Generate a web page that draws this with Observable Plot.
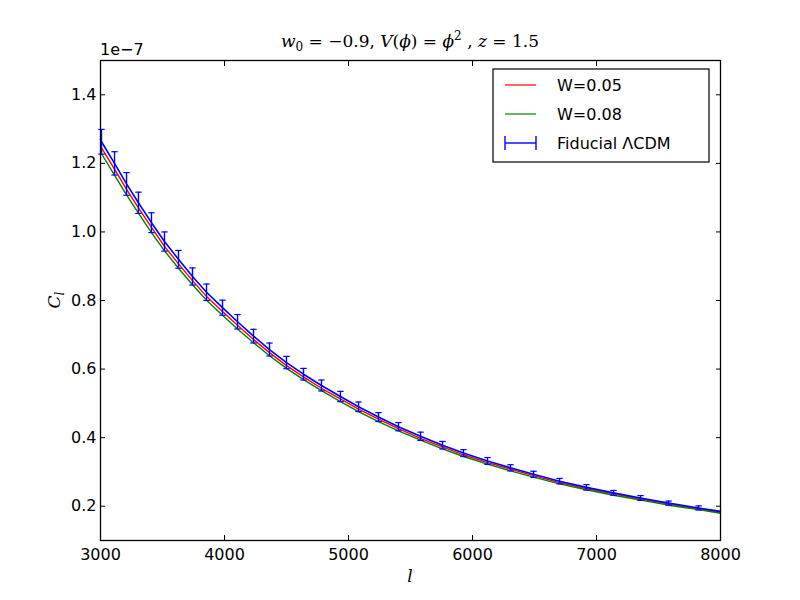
<!DOCTYPE html>
<html>
<head>
<meta charset="utf-8">
<script src="https://cdn.jsdelivr.net/npm/d3@7"></script>
<script src="https://cdn.jsdelivr.net/npm/@observablehq/plot@0.6"></script>
<style>
  html, body { margin: 0; padding: 0; background: white; }
  #chart { width: 800px; height: 600px; }
</style>
</head>
<body>
<div id="chart"></div>
<script>
// Multipole positions of the error-bar samples
const ell = [3008, 3113, 3210, 3306, 3411, 3516, 3629, 3742, 3855, 3984, 4105, 4234, 4363, 4500, 4637, 4782,
             4935, 5081, 5242, 5403, 5581, 5758, 5927, 6121, 6306, 6492, 6702, 6919, 7137, 7355, 7581, 7823];
// C_l values in units of 1e-7
const fiducial = [1.263, 1.200, 1.140, 1.085, 1.027, 0.972, 0.920, 0.870, 0.824, 0.779, 0.738, 0.696, 0.657, 0.619, 0.585, 0.552,
                  0.520, 0.490, 0.460, 0.432, 0.404, 0.378, 0.355, 0.332, 0.312, 0.293, 0.273, 0.255, 0.239, 0.224, 0.209, 0.195];
const fiducialErr = [0.036, 0.034, 0.033, 0.031, 0.029, 0.028, 0.026, 0.025, 0.024, 0.022, 0.021, 0.020, 0.019, 0.018, 0.017, 0.016,
                     0.015, 0.014, 0.013, 0.012, 0.012, 0.011, 0.010, 0.010, 0.009, 0.009, 0.008, 0.008, 0.007, 0.007, 0.006, 0.006];
const w005 = [1.245, 1.183, 1.124, 1.070, 1.013, 0.958, 0.907, 0.858, 0.812, 0.768, 0.728, 0.686, 0.648, 0.610, 0.577, 0.544,
              0.513, 0.483, 0.454, 0.426, 0.398, 0.373, 0.350, 0.327, 0.308, 0.289, 0.269, 0.251, 0.236, 0.221, 0.206, 0.192];
const w008 = [1.228, 1.166, 1.108, 1.055, 0.998, 0.945, 0.894, 0.846, 0.801, 0.757, 0.717, 0.677, 0.639, 0.602, 0.569, 0.537,
              0.505, 0.476, 0.447, 0.420, 0.393, 0.367, 0.345, 0.323, 0.303, 0.285, 0.265, 0.248, 0.232, 0.218, 0.203, 0.190];
// Curve end points at l = 3000 and l = 8000
const ellEnds = [3000, 8000];
const fiducialEnds = [1.270, 0.185];
const w005Ends = [1.252, 0.1825];
const w008Ends = [1.234, 0.1795];

const xTicks = [3000, 4000, 5000, 6000, 7000, 8000];
const yTicks = [0.2, 0.4, 0.6, 0.8, 1.0, 1.2, 1.4];
const seriesNames = ["W=0.05", "W=0.08", "Fiducial ΛCDM"];
const seriesColors = ["#ff0000", "#008000", "#0000ff"];

function curve(vals, ends) {
  const rows = ell.map((l, i) => ({l, v: vals[i]}));
  rows.unshift({l: ellEnds[0], v: ends[0]});
  rows.push({l: ellEnds[1], v: ends[1]});
  return rows;
}
const redRows = curve(w005, w005Ends);
const greenRows = curve(w008, w008Ends);
const blueRows = curve(fiducial, fiducialEnds);
const barRows = ell.map((l, i) => ({l, v: fiducial[i], lo: fiducial[i] - fiducialErr[i], hi: fiducial[i] + fiducialErr[i]}));

const capSymbol = {
  draw(ctx, size) {
    const w = Math.sqrt(size / Math.PI);
    ctx.moveTo(-w, 0);
    ctx.lineTo(w, 0);
  }
};

const chart = Plot.plot({
  width: 800,
  height: 600,
  marginLeft: 100,
  marginRight: 80,
  marginTop: 60,
  marginBottom: 60,
  style: {fontFamily: "DejaVu Sans, sans-serif", fontSize: "16px", background: "white", color: "black"},
  x: {domain: [3000, 8000]},
  y: {domain: [0.1, 1.5]},
  marks: [
    Plot.line(redRows, {x: "l", y: "v", stroke: seriesColors[0], strokeWidth: 1.4}),
    Plot.line(greenRows, {x: "l", y: "v", stroke: seriesColors[1], strokeWidth: 1.4}),
    Plot.line(blueRows, {x: "l", y: "v", stroke: seriesColors[2], strokeWidth: 1.6}),
    Plot.ruleX(barRows, {x: "l", y1: "lo", y2: "hi", stroke: seriesColors[2], strokeWidth: 1.4}),
    Plot.dot(barRows, {x: "l", y: "hi", symbol: capSymbol, r: 3.2, fill: "none", stroke: seriesColors[2], strokeWidth: 1.2}),
    Plot.dot(barRows, {x: "l", y: "lo", symbol: capSymbol, r: 3.2, fill: "none", stroke: seriesColors[2], strokeWidth: 1.2}),
    Plot.axisX({anchor: "bottom", ticks: xTicks, tickFormat: "d", tickSize: -5, tickPadding: 13, label: null, fontSize: 16}),
    Plot.axisX({anchor: "top", ticks: xTicks, tickFormat: () => "", tickSize: -5, label: null}),
    Plot.axisY({anchor: "left", ticks: yTicks, tickFormat: ".1f", tickSize: -5, tickPadding: 9, label: null, fontSize: 16}),
    Plot.axisY({anchor: "right", ticks: yTicks, tickFormat: () => "", tickSize: -5, label: null}),
    Plot.frame({stroke: "black", strokeWidth: 1.3})
  ]
});
document.getElementById("chart").appendChild(chart);

const svg = d3.select(chart);

// Title
const title = svg.append("text")
  .attr("x", 410).attr("y", 47)
  .attr("text-anchor", "middle")
  .style("font-family", "DejaVu Serif, serif")
  .style("font-size", "17px");
title.append("tspan").style("font-style", "italic").text("w");
title.append("tspan").attr("dy", 4).style("font-size", "12px").text("0");
title.append("tspan").attr("dy", -4).text(" = −0.9, ");
title.append("tspan").style("font-style", "italic").text("V");
title.append("tspan").text("(");
title.append("tspan").style("font-style", "italic").text("ϕ");
title.append("tspan").text(") = ");
title.append("tspan").style("font-style", "italic").text("ϕ");
title.append("tspan").attr("dy", -7).style("font-size", "12px").text("2");
title.append("tspan").attr("dy", 7).text(" , ");
title.append("tspan").style("font-style", "italic").text("z");
title.append("tspan").text(" = 1.5");

// Offset text
svg.append("text").attr("x", 100).attr("y", 55).attr("text-anchor", "start")
  .style("font-family", "DejaVu Sans, sans-serif").style("font-size", "16px")
  .text("1e−7");

// Axis labels
svg.append("text").attr("x", 410).attr("y", 582).attr("text-anchor", "middle")
  .style("font-family", "DejaVu Serif, serif").style("font-style", "italic").style("font-size", "17px")
  .text("l");
const ylab = svg.append("text").attr("transform", "translate(60,300) rotate(-90)").attr("text-anchor", "middle")
  .style("font-family", "DejaVu Serif, serif").style("font-size", "17px");
ylab.append("tspan").style("font-style", "italic").text("C");
ylab.append("tspan").attr("dy", 4).style("font-style", "italic").style("font-size", "12px").text("l");

// Legend
const lg = svg.append("g");
lg.append("rect").attr("x", 493).attr("y", 69).attr("width", 216).attr("height", 93)
  .attr("fill", "white").attr("stroke", "black").attr("stroke-width", 1.2);
const rowsY = [85, 114, 143];
[0, 1, 2].forEach(i => {
  lg.append("line").attr("x1", 505).attr("x2", 536).attr("y1", rowsY[i]).attr("y2", rowsY[i])
    .attr("stroke", seriesColors[i]).attr("stroke-width", i === 2 ? 1.4 : 1.2);
});
[505, 536].forEach(x => {
  lg.append("line").attr("x1", x).attr("x2", x).attr("y1", rowsY[2] - 7).attr("y2", rowsY[2] + 7)
    .attr("stroke", seriesColors[2]).attr("stroke-width", 1.4);
});
seriesNames.forEach((name, i) => {
  lg.append("text").attr("x", 557).attr("y", rowsY[i] + 6).attr("text-anchor", "start")
    .style("font-family", "DejaVu Sans, sans-serif").style("font-size", "16px")
    .text(name);
});
</script>
</body>
</html>
